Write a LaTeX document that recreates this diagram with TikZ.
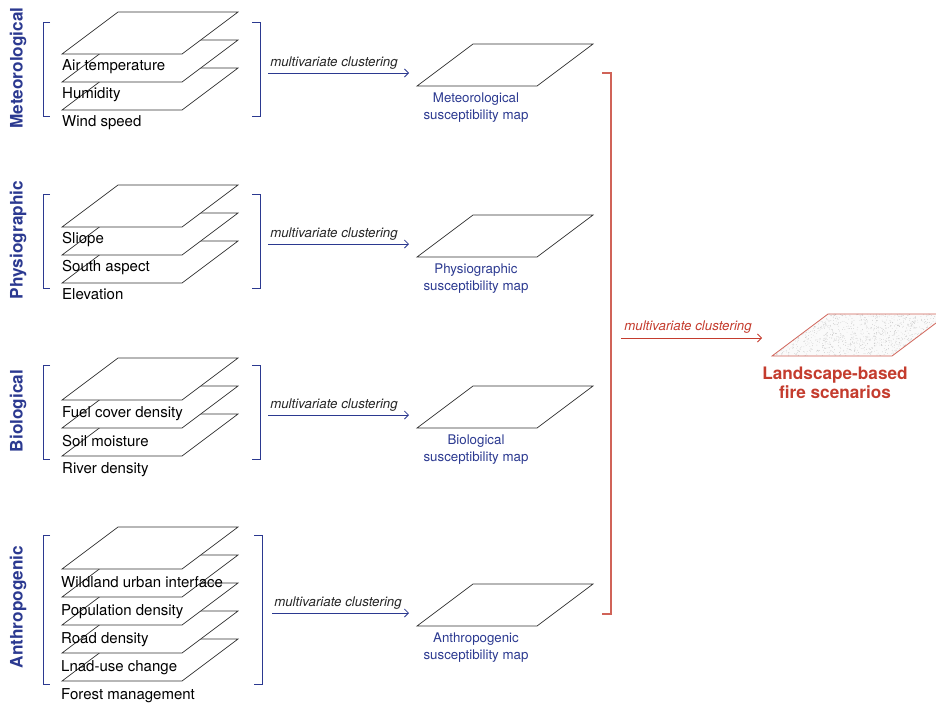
\documentclass[tikz,border=0pt]{standalone}
\usepackage{fontspec}
\setmainfont{TeX Gyre Heros}
\usetikzlibrary{arrows.meta}

\definecolor{navy}{RGB}{43,57,144}
\definecolor{firered}{RGB}{196,60,46}

\newcommand*{\sheetW}{120}
\newcommand*{\sheetDx}{56}
\newcommand*{\sheetDy}{42}

% one sheet, given by its lower left corner
\newcommand*{\drawsheet}[3][sheet]{%
    \draw [#1] (#2,#3) -- ++(\sheetW,0) -- ++(\sheetDx,-\sheetDy) -- ++(-\sheetW,0) -- cycle ;
}

\tikzset{
    sheet/.style={draw=black!80, line width=0.7pt, fill=white},
    layerlabel/.style={anchor=base west, inner sep=0pt, font=\fontsize{15}{18}\selectfont},
    grouplabel/.style={rotate=90, inner sep=0pt, text=navy, font=\bfseries\fontsize{17.2}{20}\selectfont},
    bracket/.style={draw=navy, line width=0.8pt},
    clusterarrow/.style={draw=navy, line width=0.8pt, -{Straight Barb[length=4pt,width=8pt]}},
    clusterlabel/.style={inner sep=0pt, text=black!85, font=\itshape\fontsize{13.3}{16}\selectfont},
    maplabel/.style={align=center, inner sep=0pt, text=navy, font=\fontsize{13.3}{17}\selectfont},
}

\begin{document}
\begin{tikzpicture}[x=1pt,y=-1pt]
    \clip (0,0) rectangle (936,702) ;
    \useasboundingbox (0,0) rectangle (936,702) ;

    % Meteorological
    \foreach \k in {2,1,0} {
        \drawsheet{62}{54+28*\k}
    }
    \node [layerlabel] (airtemp)  at (62,70.5)  {Air temperature};
    \node [layerlabel] (humidity) at (62,98.5)  {Humidity};
    \node [layerlabel] (wind)     at (62,126.5) {Wind speed};
    \draw [bracket] (50,22) -- (43,22) -- (43,116) -- (50,116) ;
    \draw [bracket] (252,22) -- (260,22) -- (260,116) -- (252,116) ;
    \node [grouplabel] (meteo) at (18,68) {Meteorological};

    % Physiographic
    \foreach \k in {2,1,0} {
        \drawsheet{62}{227+28*\k}
    }
    \node [layerlabel] (slope)     at (62,243.5) {Sliope};
    \node [layerlabel] (south)     at (62,271.5) {South aspect};
    \node [layerlabel] (elevation) at (62,299) {Elevation};
    \draw [bracket] (50,194) -- (43,194) -- (43,288) -- (50,288) ;
    \draw [bracket] (252,194) -- (260,194) -- (260,288) -- (252,288) ;
    \node [grouplabel] (physio) at (18,240) {Physiographic};

    % Biological
    \foreach \k in {2,1,0} {
        \drawsheet{62}{400+28*\k}
    }
    \node [layerlabel] (fuel)  at (62,417.5) {Fuel cover density};
    \node [layerlabel] (soil)  at (62,446) {Soil moisture};
    \node [layerlabel] (river) at (62,473.5) {River density};
    \draw [bracket] (50,365) -- (43,365) -- (43,459) -- (50,459) ;
    \draw [bracket] (252,365) -- (260,365) -- (260,459) -- (252,459) ;
    \node [grouplabel] (bio) at (18,411) {Biological};

    % Anthropogenic
    \foreach \k in {4,3,2,1,0} {
        \drawsheet{62}{569+28*\k}
    }
    \node [layerlabel] (wui)     at (61,587.5) {Wildland urban interface};
    \node [layerlabel] (popden)  at (61,615.5) {Population density};
    \node [layerlabel] (road)    at (61,643.5) {Road density};
    \node [layerlabel] (landuse) at (61,671.5) {Lnad-use change};
    \node [layerlabel] (forest)  at (61,699) {Forest management};
    \draw [bracket] (50,535) -- (43,535) -- (43,684) -- (50,684) ;
    \draw [bracket] (254,535) -- (262,535) -- (262,684) -- (254,684) ;
    \node [grouplabel] (anthro) at (18,607) {Anthropogenic};

    % clustering into susceptibility maps
    \foreach \name/\top/\xs in {meteo/44/268, physio/215/268, bio/386/268, anthro/584/272} {
        \drawsheet{417}{\top+42}
        \coordinate (\name out) at (\xs,\top+29) ;
        \coordinate (\name in)  at (409,\top+29) ;
        \draw [clusterarrow] (\name out) -- (\name in) ;
        \node [clusterlabel] (\name clu) at (\xs+66,\top+19) {multivariate clustering};
    }
    \node [maplabel] (meteomap)  at (476,108) {Meteorological\\susceptibility map};
    \node [maplabel] (physiomap) at (476,279) {Physiographic\\susceptibility map};
    \node [maplabel] (biomap)    at (476,450) {Biological\\susceptibility map};
    \node [maplabel] (anthromap) at (476,648) {Anthropogenic\\susceptibility map};

    % final clustering
    \draw [draw=firered!80, line width=1.2pt] (602,73) -- (611,73) -- (611,614) -- (602,614) ;
    \coordinate (allout) at (621,338) ;
    \coordinate (allin)  at (762,338) ;
    \draw [clusterarrow, draw=firered] (allout) -- (allin) ;
    \node [clusterlabel, text=firered] (allclu) at (688,327) {multivariate clustering};

    \drawsheet[fill=black!2, draw=none]{772}{356}
    \pgfmathsetseed{42}
    \foreach \i in {1,...,900} {
        \pgfmathsetmacro{\u}{rnd}
        \pgfmathsetmacro{\v}{rnd}
        \fill [black!25] (772+120*\u+56*\v,356-42*\v) circle (0.35) ;
    }
    \drawsheet[draw=firered!80, line width=0.8pt]{772}{356}
    \node [align=center, inner sep=0pt, text=firered, font=\bfseries\fontsize{17.2}{19}\selectfont]
        (scenarios) at (835,383) {Landscape-based\\fire scenarios};

\end{tikzpicture}
\end{document}
